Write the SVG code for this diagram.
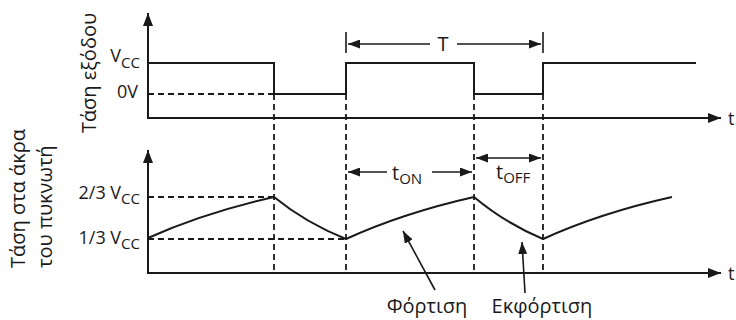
<svg xmlns="http://www.w3.org/2000/svg" width="736" height="320" viewBox="0 0 736 320">
<style>
.ln{fill:none;stroke:#1a1a1a;stroke-width:2}
.ds{fill:none;stroke:#1a1a1a;stroke-width:1.8;stroke-dasharray:6,4}
.th{fill:none;stroke:#1a1a1a;stroke-width:1.6}
text{font-family:"Open Sans","Liberation Sans",sans-serif;font-size:18px;fill:#1a1a1a}
.sub{font-size:15px}
.big{font-size:20px}
</style>
<defs>
<marker id="ax" markerUnits="userSpaceOnUse" markerWidth="14" markerHeight="10" refX="13" refY="5" orient="auto">
<path d="M0,0 L13,5 L0,10 Z" fill="#1a1a1a"/>
</marker>
<marker id="ar" markerUnits="userSpaceOnUse" markerWidth="13" markerHeight="9" refX="12" refY="4.5" orient="auto-start-reverse">
<path d="M0,0 L12,4.5 L0,9 Z" fill="#1a1a1a"/>
</marker>
</defs>
<rect width="736" height="320" fill="#fff"/>
<g id="axes">
<path class="ln" d="M148,118 V13" marker-end="url(#ax)"/>
<path class="ln" d="M147,118 H721" marker-end="url(#ax)"/>
<path class="ln" d="M148,273 V150" marker-end="url(#ax)"/>
<path class="ln" d="M147,273 H721" marker-end="url(#ax)"/>
<text x="728" y="125">t</text>
<text x="728" y="280">t</text>
</g>
<g id="guides">
<path class="ds" d="M148,94 H274"/>
<path class="ds" d="M148,197 H274"/>
<path class="ds" d="M148,239 H346"/>
<path class="ds" d="M274,94 V273"/>
<path class="ds" d="M346,94 V273"/>
<path class="ds" d="M474,94 V273"/>
<path class="ds" d="M543,94 V273"/>
</g>
<g id="output-wave">
<path class="ln" d="M148,63 H274 V94 H346 V63 H474 V94 H543 V63 H696"/>
</g>
<g id="capacitor-wave">
<path class="ln" d="M148,238 Q204,213 274,197 Q306,223 346,239 Q403,213 474,197 Q505,223 543,239 Q600,213 672,197"/>
</g>
<g id="period">
<path class="th" d="M346,32 V53 M543,32 V53"/>
<path class="th" d="M430,44 H348" marker-end="url(#ar)"/>
<path class="th" d="M457,44 H541" marker-end="url(#ar)"/>
<text class="big" x="443" y="51" text-anchor="middle">T</text>
</g>
<g id="ton">
<path class="th" d="M387,172 H348" marker-end="url(#ar)"/>
<path class="th" d="M432,172 H472" marker-end="url(#ar)"/>
<text class="big" x="392" y="180">t<tspan class="sub" font-size="16" dy="4">ON</tspan></text>
</g>
<g id="toff">
<path class="th" d="M476,158 H541" marker-start="url(#ar)" marker-end="url(#ar)"/>
<text class="big" x="496" y="179">t<tspan class="sub" font-size="16" dy="4">OFF</tspan></text>
</g>
<g id="y-labels">
<text x="140" y="62" text-anchor="end">V<tspan class="sub" dy="6">CC</tspan></text>
<text x="138" y="98" text-anchor="end">0V</text>
<text x="140" y="199" text-anchor="end">2/3 V<tspan class="sub" dy="5">CC</tspan></text>
<text x="140" y="244" text-anchor="end">1/3 V<tspan class="sub" dy="5">CC</tspan></text>
<text class="big" transform="translate(96,73) rotate(-90)" text-anchor="middle">Τάση εξόδου</text>
<text class="big" transform="translate(25,268) rotate(-90)">Τάση στα άκρα</text>
<text class="big" transform="translate(52,268) rotate(-90)">του πυκνωτή</text>
</g>
<g id="connectors">
<path class="th" d="M435,290 L403,231" marker-end="url(#ar)"/>
<path class="th" d="M525,293 L522,242" marker-end="url(#ar)"/>
</g>
<g id="annotations">
<text class="big" x="427" y="313" text-anchor="middle">Φόρτιση</text>
<text class="big" x="542" y="313" text-anchor="middle">Εκφόρτιση</text>
</g>
</svg>
